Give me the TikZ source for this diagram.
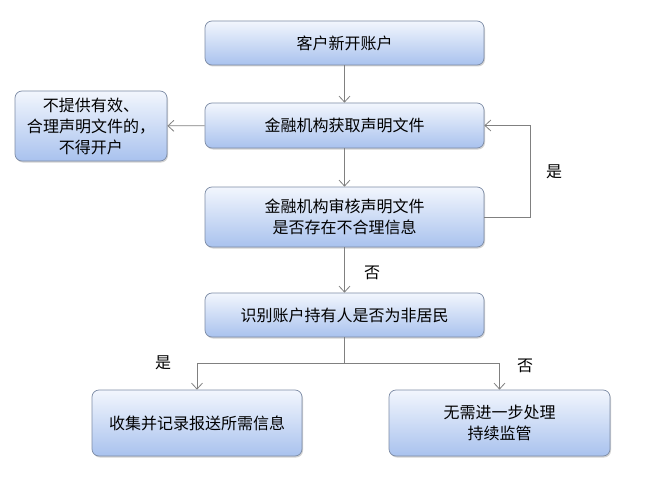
\documentclass[tikz,border=0pt]{standalone}
\usepackage{fontspec}
\newfontfamily\cjk{Noto Sans CJK SC}
\usetikzlibrary{calc,arrows.meta,shadows}
\definecolor{boxtop}{HTML}{F2F6FD}
\definecolor{boxbot}{HTML}{A9C2EE}
\definecolor{boxline}{HTML}{7D8CA6}
\definecolor{linkgray}{HTML}{808080}
\begin{document}
\begin{tikzpicture}[x=1pt,y=-1pt]
       \tikzstyle{stage} = [rectangle, rounded corners=7pt, draw=boxline, line width=0.7pt,
         top color=boxtop, bottom color=boxbot, align=center,
         font=\cjk\fontsize{16}{21}\selectfont, inner sep=0pt,
         drop shadow={shadow xshift=1pt, shadow yshift=-1.5pt, fill=black!35, opacity=0.5}];
       \tikzstyle{link} = [draw=linkgray, line width=0.8pt, -{Straight Barb[length=6pt,width=11pt]}];
       \tikzstyle{tag} = [font=\cjk\fontsize{16}{18}\selectfont, inner sep=0pt];
       \useasboundingbox (0,0) rectangle (647,476);
       \fill[white] (0,0) rectangle (647,476);

       \node[stage, minimum width=279, minimum height=44] (kaihu) at (344.5,43) {客户新开账户};
       \node[stage, minimum width=279, minimum height=45] (huoqu) at (344.5,125.5) {金融机构获取声明文件};
       \node[stage, minimum width=152, minimum height=70] (jujue) at (91,126) {不提供有效、\\合理声明文件的，\\不得开户};
       \node[stage, minimum width=279, minimum height=60] (shenhe) at (344.5,217) {金融机构审核声明文件\\是否存在不合理信息};
       \node[stage, minimum width=279, minimum height=44] (shibie) at (344.5,315) {识别账户持有人是否为非居民};
       \node[stage, minimum width=210, minimum height=66] (shouji) at (197,423) {收集并记录报送所需信息};
       \node[stage, minimum width=221, minimum height=66] (wuxu) at (499.5,423) {无需进一步处理\\持续监管};

       \coordinate (fork) at ($(shibie.south)+(0,26)$);
       \coordinate (back) at ($(shenhe.east)+(46,0)$);

       \draw[link] (kaihu) -- (huoqu);
       \draw[link] (huoqu) -- (jujue);
       \draw[link] (huoqu) -- (shenhe);
       \draw[link] (shenhe.east) -- (back) |- (huoqu.east);
       \draw[link] (shenhe) -- (shibie);
       \draw[draw=linkgray, line width=0.8pt] (shibie.south) -- (fork);
       \draw[link] (fork) -| (shouji.north);
       \draw[link] (fork) -| (wuxu.north);

       \node[tag] (shi1) at (554,172) {是};
       \node[tag] (fou1) at (372,273) {否};
       \node[tag] (shi2) at (163,363) {是};
       \node[tag] (fou2) at (525,366) {否};
     \end{tikzpicture}
\end{document}
